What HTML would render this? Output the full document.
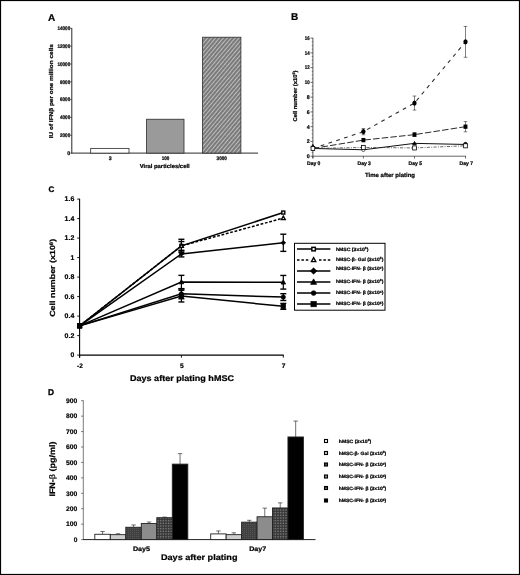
<!DOCTYPE html>
<html><head><meta charset="utf-8"><title>Figure</title>
<style>html,body{margin:0;padding:0;background:#fff;}svg{display:block;will-change:transform;opacity:0.999;}</style>
</head><body>
<svg width="520" height="575" viewBox="0 0 520 575" font-family="Liberation Sans, sans-serif" fill="#000" text-rendering="geometricPrecision">
<defs>
<pattern id="hatch" width="3" height="3" patternUnits="userSpaceOnUse" patternTransform="rotate(-50)">
<rect width="3" height="3" fill="#7f7f7f"/><rect width="3" height="0.62" fill="#e4e4e4"/><rect x="0.5" y="1.3" width="1.2" height="1.0" fill="#696969"/></pattern>
<pattern id="dk1" width="2" height="2" patternUnits="userSpaceOnUse"><rect width="2" height="2" fill="#414141"/><rect width="1" height="1" fill="#545454"/></pattern>
<pattern id="dk2" width="1.6" height="1.6" patternUnits="userSpaceOnUse"><rect width="1.6" height="1.6" fill="#343434"/><rect width="0.8" height="0.8" fill="#8a8a8a"/></pattern>
</defs>
<rect x="0" y="0" width="520" height="575" fill="#fff"/>
<rect x="0.5" y="0.5" width="519" height="574" fill="none" stroke="#000" stroke-width="1.2"/>
<text x="48" y="21" font-size="10" font-weight="bold" text-anchor="start" stroke="#000" stroke-width="0.2">A</text>
<line x1="71.80" y1="28.00" x2="71.80" y2="153.50" stroke="#2a2a2a" stroke-width="1.0" />
<line x1="71.40" y1="153.10" x2="258.00" y2="153.10" stroke="#2a2a2a" stroke-width="1.0" />
<line x1="70.20" y1="153.10" x2="71.80" y2="153.10" stroke="#2a2a2a" stroke-width="0.7" />
<text x="70.2" y="154.95" font-size="5.2" font-weight="bold" text-anchor="end" stroke="#000" stroke-width="0.22">0</text>
<line x1="70.20" y1="135.27" x2="71.80" y2="135.27" stroke="#2a2a2a" stroke-width="0.7" />
<text x="70.2" y="137.12142857142857" font-size="5.2" font-weight="bold" text-anchor="end" textLength="10.16" lengthAdjust="spacingAndGlyphs" stroke="#000" stroke-width="0.22">2000</text>
<line x1="70.20" y1="117.44" x2="71.80" y2="117.44" stroke="#2a2a2a" stroke-width="0.7" />
<text x="70.2" y="119.29285714285713" font-size="5.2" font-weight="bold" text-anchor="end" textLength="10.16" lengthAdjust="spacingAndGlyphs" stroke="#000" stroke-width="0.22">4000</text>
<line x1="70.20" y1="99.61" x2="71.80" y2="99.61" stroke="#2a2a2a" stroke-width="0.7" />
<text x="70.2" y="101.4642857142857" font-size="5.2" font-weight="bold" text-anchor="end" textLength="10.16" lengthAdjust="spacingAndGlyphs" stroke="#000" stroke-width="0.22">6000</text>
<line x1="70.20" y1="81.79" x2="71.80" y2="81.79" stroke="#2a2a2a" stroke-width="0.7" />
<text x="70.2" y="83.63571428571427" font-size="5.2" font-weight="bold" text-anchor="end" textLength="10.16" lengthAdjust="spacingAndGlyphs" stroke="#000" stroke-width="0.22">8000</text>
<line x1="70.20" y1="63.96" x2="71.80" y2="63.96" stroke="#2a2a2a" stroke-width="0.7" />
<text x="70.2" y="65.80714285714285" font-size="5.2" font-weight="bold" text-anchor="end" textLength="12.7" lengthAdjust="spacingAndGlyphs" stroke="#000" stroke-width="0.22">10000</text>
<line x1="70.20" y1="46.13" x2="71.80" y2="46.13" stroke="#2a2a2a" stroke-width="0.7" />
<text x="70.2" y="47.97857142857142" font-size="5.2" font-weight="bold" text-anchor="end" textLength="12.7" lengthAdjust="spacingAndGlyphs" stroke="#000" stroke-width="0.22">12000</text>
<line x1="70.20" y1="28.30" x2="71.80" y2="28.30" stroke="#2a2a2a" stroke-width="0.7" />
<text x="70.2" y="30.15" font-size="5.2" font-weight="bold" text-anchor="end" textLength="12.7" lengthAdjust="spacingAndGlyphs" stroke="#000" stroke-width="0.22">14000</text>
<rect x="90.7" y="148.38" width="38.30" height="4.72" fill="#fff" stroke="#2a2a2a" stroke-width="0.8"/>
<rect x="146.6" y="119.23" width="37.40" height="33.87" fill="#9a9a9a" stroke="#2a2a2a" stroke-width="0.8"/>
<rect x="202.6" y="37.21" width="38.30" height="115.89" fill="url(#hatch)" stroke="#2a2a2a" stroke-width="0.8"/>
<text x="110.2" y="159.7" font-size="5.2" font-weight="bold" text-anchor="middle" stroke="#000" stroke-width="0.22">3</text>
<text x="165.6" y="159.7" font-size="5.2" font-weight="bold" text-anchor="middle" textLength="7.62" lengthAdjust="spacingAndGlyphs" stroke="#000" stroke-width="0.22">100</text>
<text x="221.7" y="159.7" font-size="5.2" font-weight="bold" text-anchor="middle" textLength="10.16" lengthAdjust="spacingAndGlyphs" stroke="#000" stroke-width="0.22">3000</text>
<text x="164.7" y="167.6" font-size="5.7" font-weight="bold" text-anchor="middle" textLength="50" lengthAdjust="spacingAndGlyphs" stroke="#000" stroke-width="0.22">Viral particles/cell</text>
<text x="52.6" y="91.2" font-size="5.6" font-weight="bold" text-anchor="middle" transform="rotate(-90 52.6 91.2)" textLength="94" lengthAdjust="spacingAndGlyphs" stroke="#000" stroke-width="0.22">IU of IFNβ per one million cells</text>
<text x="291" y="19.9" font-size="10" font-weight="bold" text-anchor="start" stroke="#000" stroke-width="0.2">B</text>
<line x1="312.90" y1="37.80" x2="312.90" y2="158.40" stroke="#2a2a2a" stroke-width="0.8" />
<line x1="312.90" y1="156.20" x2="465.90" y2="156.20" stroke="#555" stroke-width="0.9" />
<line x1="310.50" y1="156.20" x2="312.90" y2="156.20" stroke="#2a2a2a" stroke-width="0.7" />
<text x="309.6" y="158.04999999999998" font-size="5.3" font-weight="bold" text-anchor="end" stroke="#000" stroke-width="0.22">0</text>
<line x1="311.70" y1="152.51" x2="312.90" y2="152.51" stroke="#2a2a2a" stroke-width="0.5" />
<line x1="311.70" y1="148.82" x2="312.90" y2="148.82" stroke="#2a2a2a" stroke-width="0.5" />
<line x1="311.70" y1="145.13" x2="312.90" y2="145.13" stroke="#2a2a2a" stroke-width="0.5" />
<line x1="310.50" y1="141.44" x2="312.90" y2="141.44" stroke="#2a2a2a" stroke-width="0.7" />
<text x="309.6" y="143.2875" font-size="5.3" font-weight="bold" text-anchor="end" stroke="#000" stroke-width="0.22">2</text>
<line x1="311.70" y1="137.75" x2="312.90" y2="137.75" stroke="#2a2a2a" stroke-width="0.5" />
<line x1="311.70" y1="134.06" x2="312.90" y2="134.06" stroke="#2a2a2a" stroke-width="0.5" />
<line x1="311.70" y1="130.37" x2="312.90" y2="130.37" stroke="#2a2a2a" stroke-width="0.5" />
<line x1="310.50" y1="126.67" x2="312.90" y2="126.67" stroke="#2a2a2a" stroke-width="0.7" />
<text x="309.6" y="128.52499999999998" font-size="5.3" font-weight="bold" text-anchor="end" stroke="#000" stroke-width="0.22">4</text>
<line x1="311.70" y1="122.98" x2="312.90" y2="122.98" stroke="#2a2a2a" stroke-width="0.5" />
<line x1="311.70" y1="119.29" x2="312.90" y2="119.29" stroke="#2a2a2a" stroke-width="0.5" />
<line x1="311.70" y1="115.60" x2="312.90" y2="115.60" stroke="#2a2a2a" stroke-width="0.5" />
<line x1="310.50" y1="111.91" x2="312.90" y2="111.91" stroke="#2a2a2a" stroke-width="0.7" />
<text x="309.6" y="113.76249999999999" font-size="5.3" font-weight="bold" text-anchor="end" stroke="#000" stroke-width="0.22">6</text>
<line x1="311.70" y1="108.22" x2="312.90" y2="108.22" stroke="#2a2a2a" stroke-width="0.5" />
<line x1="311.70" y1="104.53" x2="312.90" y2="104.53" stroke="#2a2a2a" stroke-width="0.5" />
<line x1="311.70" y1="100.84" x2="312.90" y2="100.84" stroke="#2a2a2a" stroke-width="0.5" />
<line x1="310.50" y1="97.15" x2="312.90" y2="97.15" stroke="#2a2a2a" stroke-width="0.7" />
<text x="309.6" y="98.99999999999999" font-size="5.3" font-weight="bold" text-anchor="end" stroke="#000" stroke-width="0.22">8</text>
<line x1="311.70" y1="93.46" x2="312.90" y2="93.46" stroke="#2a2a2a" stroke-width="0.5" />
<line x1="311.70" y1="89.77" x2="312.90" y2="89.77" stroke="#2a2a2a" stroke-width="0.5" />
<line x1="311.70" y1="86.08" x2="312.90" y2="86.08" stroke="#2a2a2a" stroke-width="0.5" />
<line x1="310.50" y1="82.39" x2="312.90" y2="82.39" stroke="#2a2a2a" stroke-width="0.7" />
<text x="309.6" y="84.23749999999998" font-size="5.3" font-weight="bold" text-anchor="end" textLength="4.9" lengthAdjust="spacingAndGlyphs" stroke="#000" stroke-width="0.22">10</text>
<line x1="311.70" y1="78.70" x2="312.90" y2="78.70" stroke="#2a2a2a" stroke-width="0.5" />
<line x1="311.70" y1="75.01" x2="312.90" y2="75.01" stroke="#2a2a2a" stroke-width="0.5" />
<line x1="311.70" y1="71.32" x2="312.90" y2="71.32" stroke="#2a2a2a" stroke-width="0.5" />
<line x1="310.50" y1="67.62" x2="312.90" y2="67.62" stroke="#2a2a2a" stroke-width="0.7" />
<text x="309.6" y="69.475" font-size="5.3" font-weight="bold" text-anchor="end" textLength="4.9" lengthAdjust="spacingAndGlyphs" stroke="#000" stroke-width="0.22">12</text>
<line x1="311.70" y1="63.93" x2="312.90" y2="63.93" stroke="#2a2a2a" stroke-width="0.5" />
<line x1="311.70" y1="60.24" x2="312.90" y2="60.24" stroke="#2a2a2a" stroke-width="0.5" />
<line x1="311.70" y1="56.55" x2="312.90" y2="56.55" stroke="#2a2a2a" stroke-width="0.5" />
<line x1="310.50" y1="52.86" x2="312.90" y2="52.86" stroke="#2a2a2a" stroke-width="0.7" />
<text x="309.6" y="54.7125" font-size="5.3" font-weight="bold" text-anchor="end" textLength="4.9" lengthAdjust="spacingAndGlyphs" stroke="#000" stroke-width="0.22">14</text>
<line x1="311.70" y1="49.17" x2="312.90" y2="49.17" stroke="#2a2a2a" stroke-width="0.5" />
<line x1="311.70" y1="45.48" x2="312.90" y2="45.48" stroke="#2a2a2a" stroke-width="0.5" />
<line x1="311.70" y1="41.79" x2="312.90" y2="41.79" stroke="#2a2a2a" stroke-width="0.5" />
<line x1="310.50" y1="38.10" x2="312.90" y2="38.10" stroke="#2a2a2a" stroke-width="0.7" />
<text x="309.6" y="39.949999999999996" font-size="5.3" font-weight="bold" text-anchor="end" textLength="4.9" lengthAdjust="spacingAndGlyphs" stroke="#000" stroke-width="0.22">16</text>
<line x1="312.90" y1="156.20" x2="312.90" y2="158.40" stroke="#2a2a2a" stroke-width="0.7" />
<text x="313.7" y="164.5" font-size="5.2" font-weight="bold" text-anchor="middle" textLength="13.4" lengthAdjust="spacingAndGlyphs" stroke="#000" stroke-width="0.22">Day 0</text>
<line x1="363.40" y1="156.20" x2="363.40" y2="158.40" stroke="#2a2a2a" stroke-width="0.7" />
<text x="364.2" y="164.5" font-size="5.2" font-weight="bold" text-anchor="middle" textLength="13.4" lengthAdjust="spacingAndGlyphs" stroke="#000" stroke-width="0.22">Day 3</text>
<line x1="414.50" y1="156.20" x2="414.50" y2="158.40" stroke="#2a2a2a" stroke-width="0.7" />
<text x="415.3" y="164.5" font-size="5.2" font-weight="bold" text-anchor="middle" textLength="13.4" lengthAdjust="spacingAndGlyphs" stroke="#000" stroke-width="0.22">Day 5</text>
<line x1="465.50" y1="156.20" x2="465.50" y2="158.40" stroke="#2a2a2a" stroke-width="0.7" />
<text x="466.3" y="164.5" font-size="5.2" font-weight="bold" text-anchor="middle" textLength="13.4" lengthAdjust="spacingAndGlyphs" stroke="#000" stroke-width="0.22">Day 7</text>
<text x="390" y="176.5" font-size="5.9" font-weight="bold" text-anchor="middle" textLength="50" lengthAdjust="spacingAndGlyphs" stroke="#000" stroke-width="0.22">Time after plating</text>
<text x="297.3" y="96" font-size="5.6" font-weight="bold" text-anchor="middle" transform="rotate(-90 297.3 96)" textLength="51" lengthAdjust="spacingAndGlyphs" stroke="#000" stroke-width="0.22">Cell number (x10<tspan font-size="3.6" dy="-1.9">5</tspan><tspan dy="1.9">)</tspan></text>
<polyline points="312.90,148.45 363.40,149.78 414.50,143.36 465.50,144.46" fill="none" stroke="#111" stroke-width="1.0"/>
<polyline points="312.90,148.45 363.40,147.42 414.50,147.93 465.50,145.79" fill="none" stroke="#2a2a2a" stroke-width="0.7" stroke-dasharray="3.2 1.3 0.9 1.3"/>
<polyline points="312.90,148.45 363.40,140.11 414.50,134.65 465.50,126.67" fill="none" stroke="#2a2a2a" stroke-width="1.0" stroke-dasharray="6.5 2.2"/>
<polyline points="312.90,148.45 363.40,131.62 414.50,103.05 465.50,41.86" fill="none" stroke="#2a2a2a" stroke-width="1.05" stroke-dasharray="3.8 4.4"/>
<line x1="363.40" y1="128.52" x2="363.40" y2="134.72" stroke="#2a2a2a" stroke-width="0.6" />
<line x1="361.60" y1="128.52" x2="365.20" y2="128.52" stroke="#2a2a2a" stroke-width="0.6" />
<line x1="361.60" y1="134.72" x2="365.20" y2="134.72" stroke="#2a2a2a" stroke-width="0.6" />
<line x1="414.50" y1="96.04" x2="414.50" y2="110.07" stroke="#2a2a2a" stroke-width="0.6" />
<line x1="412.70" y1="96.04" x2="416.30" y2="96.04" stroke="#2a2a2a" stroke-width="0.6" />
<line x1="412.70" y1="110.07" x2="416.30" y2="110.07" stroke="#2a2a2a" stroke-width="0.6" />
<line x1="465.50" y1="26.44" x2="465.50" y2="57.29" stroke="#2a2a2a" stroke-width="0.6" />
<line x1="463.70" y1="26.44" x2="467.30" y2="26.44" stroke="#2a2a2a" stroke-width="0.6" />
<line x1="463.70" y1="57.29" x2="467.30" y2="57.29" stroke="#2a2a2a" stroke-width="0.6" />
<line x1="414.50" y1="132.80" x2="414.50" y2="136.49" stroke="#2a2a2a" stroke-width="0.6" />
<line x1="412.70" y1="132.80" x2="416.30" y2="132.80" stroke="#2a2a2a" stroke-width="0.6" />
<line x1="412.70" y1="136.49" x2="416.30" y2="136.49" stroke="#2a2a2a" stroke-width="0.6" />
<line x1="465.50" y1="121.58" x2="465.50" y2="131.77" stroke="#2a2a2a" stroke-width="0.6" />
<line x1="463.70" y1="121.58" x2="467.30" y2="121.58" stroke="#2a2a2a" stroke-width="0.6" />
<line x1="463.70" y1="131.77" x2="467.30" y2="131.77" stroke="#2a2a2a" stroke-width="0.6" />
<path d="M312.90 144.44 L314.62 147.59 L311.17 147.59 Z" fill="#000" stroke="#000" stroke-width="0.8" stroke-linejoin="miter"/>
<circle cx="363.40" cy="149.93" r="1.60" fill="#fff" stroke="#000" stroke-width="0.6"/>
<path d="M414.50 141.44 L416.34 144.80 L412.66 144.80 Z" fill="#000" stroke="#000" stroke-width="0.8" stroke-linejoin="miter"/>
<circle cx="465.50" cy="143.86" r="1.60" fill="#000" stroke="#000" stroke-width="0.8"/>
<rect x="361.45" y="137.96" width="3.9" height="4.3" fill="#000"/>
<rect x="412.55" y="132.50" width="3.9" height="4.3" fill="#000"/>
<rect x="463.55" y="124.52" width="3.9" height="4.3" fill="#000"/>
<ellipse cx="363.40" cy="131.62" rx="2.15" ry="2.65" fill="#000"/>
<ellipse cx="414.50" cy="103.05" rx="2.15" ry="2.65" fill="#000"/>
<ellipse cx="465.50" cy="41.86" rx="2.15" ry="2.65" fill="#000"/>
<rect x="311.05" y="146.40" width="3.7" height="4.1" fill="#fff" stroke="#000" stroke-width="0.8"/>
<rect x="361.55" y="145.37" width="3.7" height="4.1" fill="#fff" stroke="#000" stroke-width="0.8"/>
<rect x="412.65" y="145.88" width="3.7" height="4.1" fill="#fff" stroke="#000" stroke-width="0.8"/>
<rect x="463.65" y="143.74" width="3.7" height="4.1" fill="#fff" stroke="#000" stroke-width="0.8"/>
<text x="48.4" y="192.4" font-size="8.1" font-weight="bold" text-anchor="start" stroke="#000" stroke-width="0.3">C</text>
<line x1="79.60" y1="198.80" x2="79.60" y2="357.70" stroke="#000" stroke-width="1.1" />
<line x1="79.10" y1="355.10" x2="283.80" y2="355.10" stroke="#000" stroke-width="1.1" />
<line x1="77.20" y1="355.10" x2="79.60" y2="355.10" stroke="#000" stroke-width="0.9" />
<text x="74.3" y="357.45000000000005" font-size="6.8" font-weight="bold" text-anchor="end" stroke="#000" stroke-width="0.2">0</text>
<line x1="77.20" y1="335.60" x2="79.60" y2="335.60" stroke="#000" stroke-width="0.9" />
<text x="74.3" y="337.95000000000005" font-size="6.8" font-weight="bold" text-anchor="end" textLength="9.7" lengthAdjust="spacingAndGlyphs" stroke="#000" stroke-width="0.2">0.2</text>
<line x1="77.20" y1="316.10" x2="79.60" y2="316.10" stroke="#000" stroke-width="0.9" />
<text x="74.3" y="318.45000000000005" font-size="6.8" font-weight="bold" text-anchor="end" textLength="9.7" lengthAdjust="spacingAndGlyphs" stroke="#000" stroke-width="0.2">0.4</text>
<line x1="77.20" y1="296.60" x2="79.60" y2="296.60" stroke="#000" stroke-width="0.9" />
<text x="74.3" y="298.95000000000005" font-size="6.8" font-weight="bold" text-anchor="end" textLength="9.7" lengthAdjust="spacingAndGlyphs" stroke="#000" stroke-width="0.2">0.6</text>
<line x1="77.20" y1="277.10" x2="79.60" y2="277.10" stroke="#000" stroke-width="0.9" />
<text x="74.3" y="279.45000000000005" font-size="6.8" font-weight="bold" text-anchor="end" textLength="9.7" lengthAdjust="spacingAndGlyphs" stroke="#000" stroke-width="0.2">0.8</text>
<line x1="77.20" y1="257.60" x2="79.60" y2="257.60" stroke="#000" stroke-width="0.9" />
<text x="74.3" y="259.95000000000005" font-size="6.8" font-weight="bold" text-anchor="end" stroke="#000" stroke-width="0.2">1</text>
<line x1="77.20" y1="238.10" x2="79.60" y2="238.10" stroke="#000" stroke-width="0.9" />
<text x="74.3" y="240.45" font-size="6.8" font-weight="bold" text-anchor="end" textLength="9.7" lengthAdjust="spacingAndGlyphs" stroke="#000" stroke-width="0.2">1.2</text>
<line x1="77.20" y1="218.60" x2="79.60" y2="218.60" stroke="#000" stroke-width="0.9" />
<text x="74.3" y="220.95" font-size="6.8" font-weight="bold" text-anchor="end" textLength="9.7" lengthAdjust="spacingAndGlyphs" stroke="#000" stroke-width="0.2">1.4</text>
<line x1="77.20" y1="199.10" x2="79.60" y2="199.10" stroke="#000" stroke-width="0.9" />
<text x="74.3" y="201.45" font-size="6.8" font-weight="bold" text-anchor="end" textLength="9.7" lengthAdjust="spacingAndGlyphs" stroke="#000" stroke-width="0.2">1.6</text>
<line x1="79.60" y1="355.10" x2="79.60" y2="357.70" stroke="#000" stroke-width="0.9" />
<text x="80.0" y="368.4" font-size="6.6" font-weight="bold" text-anchor="middle" stroke="#000" stroke-width="0.2">-2</text>
<line x1="181.40" y1="355.10" x2="181.40" y2="357.70" stroke="#000" stroke-width="0.9" />
<text x="181.8" y="368.4" font-size="6.6" font-weight="bold" text-anchor="middle" stroke="#000" stroke-width="0.2">5</text>
<line x1="283.30" y1="355.10" x2="283.30" y2="357.70" stroke="#000" stroke-width="0.9" />
<text x="283.7" y="368.4" font-size="6.6" font-weight="bold" text-anchor="middle" stroke="#000" stroke-width="0.2">7</text>
<text x="182" y="380.5" font-size="8.2" font-weight="bold" text-anchor="middle" textLength="104" lengthAdjust="spacingAndGlyphs" stroke="#000" stroke-width="0.22">Days after plating hMSC</text>
<text x="55.2" y="277.8" font-size="7.4" font-weight="bold" text-anchor="middle" transform="rotate(-90 55.2 277.8)" textLength="78" lengthAdjust="spacingAndGlyphs" stroke="#000" stroke-width="0.22">Cell number (x10<tspan font-size="5" dy="-2.6">6</tspan><tspan dy="2.6">)</tspan></text>
<polyline points="79.60,325.85 181.40,245.90 283.30,212.56" fill="none" stroke="#000" stroke-width="1.5"/>
<polyline points="79.60,325.85 181.40,245.90 283.30,218.11" fill="none" stroke="#000" stroke-width="1.5" stroke-dasharray="2.8 1.7"/>
<polyline points="79.60,325.85 181.40,253.99 283.30,242.78" fill="none" stroke="#000" stroke-width="1.5"/>
<polyline points="79.60,325.85 181.40,281.98 283.30,282.27" fill="none" stroke="#000" stroke-width="1.5"/>
<polyline points="79.60,325.85 181.40,293.87 283.30,297.09" fill="none" stroke="#000" stroke-width="1.5"/>
<polyline points="79.60,325.85 181.40,296.11 283.30,306.35" fill="none" stroke="#000" stroke-width="1.5"/>
<line x1="181.40" y1="239.27" x2="181.40" y2="252.53" stroke="#000" stroke-width="1.2" />
<line x1="178.40" y1="239.27" x2="184.40" y2="239.27" stroke="#000" stroke-width="1.4" />
<line x1="178.40" y1="252.53" x2="184.40" y2="252.53" stroke="#000" stroke-width="1.4" />
<line x1="181.40" y1="241.51" x2="181.40" y2="250.29" stroke="#000" stroke-width="1.2" />
<line x1="178.40" y1="241.51" x2="184.40" y2="241.51" stroke="#000" stroke-width="1.4" />
<line x1="178.40" y1="250.29" x2="184.40" y2="250.29" stroke="#000" stroke-width="1.4" />
<line x1="181.40" y1="251.07" x2="181.40" y2="256.92" stroke="#000" stroke-width="1.2" />
<line x1="178.40" y1="251.07" x2="184.40" y2="251.07" stroke="#000" stroke-width="1.4" />
<line x1="178.40" y1="256.92" x2="184.40" y2="256.92" stroke="#000" stroke-width="1.4" />
<line x1="283.30" y1="234.20" x2="283.30" y2="251.36" stroke="#000" stroke-width="1.2" />
<line x1="280.30" y1="234.20" x2="286.30" y2="234.20" stroke="#000" stroke-width="1.4" />
<line x1="280.30" y1="251.36" x2="286.30" y2="251.36" stroke="#000" stroke-width="1.4" />
<line x1="181.40" y1="275.35" x2="181.40" y2="288.61" stroke="#000" stroke-width="1.2" />
<line x1="178.40" y1="275.35" x2="184.40" y2="275.35" stroke="#000" stroke-width="1.4" />
<line x1="178.40" y1="288.61" x2="184.40" y2="288.61" stroke="#000" stroke-width="1.4" />
<line x1="283.30" y1="275.44" x2="283.30" y2="289.09" stroke="#000" stroke-width="1.2" />
<line x1="280.30" y1="275.44" x2="286.30" y2="275.44" stroke="#000" stroke-width="1.4" />
<line x1="280.30" y1="289.09" x2="286.30" y2="289.09" stroke="#000" stroke-width="1.4" />
<line x1="181.40" y1="289.00" x2="181.40" y2="298.75" stroke="#000" stroke-width="1.2" />
<line x1="178.40" y1="289.00" x2="184.40" y2="289.00" stroke="#000" stroke-width="1.4" />
<line x1="178.40" y1="298.75" x2="184.40" y2="298.75" stroke="#000" stroke-width="1.4" />
<line x1="283.30" y1="293.68" x2="283.30" y2="300.50" stroke="#000" stroke-width="1.2" />
<line x1="280.30" y1="293.68" x2="286.30" y2="293.68" stroke="#000" stroke-width="1.4" />
<line x1="280.30" y1="300.50" x2="286.30" y2="300.50" stroke="#000" stroke-width="1.4" />
<line x1="181.40" y1="290.26" x2="181.40" y2="301.96" stroke="#000" stroke-width="1.2" />
<line x1="178.40" y1="290.26" x2="184.40" y2="290.26" stroke="#000" stroke-width="1.4" />
<line x1="178.40" y1="301.96" x2="184.40" y2="301.96" stroke="#000" stroke-width="1.4" />
<line x1="283.30" y1="303.43" x2="283.30" y2="309.28" stroke="#000" stroke-width="1.2" />
<line x1="280.30" y1="303.43" x2="286.30" y2="303.43" stroke="#000" stroke-width="1.4" />
<line x1="280.30" y1="309.28" x2="286.30" y2="309.28" stroke="#000" stroke-width="1.4" />
<rect x="179.90" y="244.40" width="3.00" height="3.00" fill="#fff" stroke="#000" stroke-width="1.4"/>
<rect x="281.80" y="211.06" width="3.00" height="3.00" fill="#fff" stroke="#000" stroke-width="1.4"/>
<path d="M181.40 243.86 L183.36 247.43 L179.44 247.43 Z" fill="#fff" stroke="#000" stroke-width="1.35" stroke-linejoin="miter"/>
<path d="M283.30 216.07 L285.25 219.64 L281.35 219.64 Z" fill="#fff" stroke="#000" stroke-width="1.35" stroke-linejoin="miter"/>
<path d="M79.60 323.58 L82.05 325.85 L79.60 328.12 L77.15 325.85 Z" fill="#000" stroke="#000" stroke-width="0.6"/>
<path d="M181.40 251.72 L183.85 253.99 L181.40 256.27 L178.95 253.99 Z" fill="#000" stroke="#000" stroke-width="0.6"/>
<path d="M283.30 240.51 L285.75 242.78 L283.30 245.06 L280.85 242.78 Z" fill="#000" stroke="#000" stroke-width="0.6"/>
<path d="M79.60 323.45 L81.90 327.65 L77.30 327.65 Z" fill="#000" stroke="#000" stroke-width="0.8" stroke-linejoin="miter"/>
<path d="M181.40 279.58 L183.70 283.78 L179.10 283.78 Z" fill="#000" stroke="#000" stroke-width="0.8" stroke-linejoin="miter"/>
<path d="M283.30 279.87 L285.60 284.07 L281.00 284.07 Z" fill="#000" stroke="#000" stroke-width="0.8" stroke-linejoin="miter"/>
<circle cx="79.60" cy="325.85" r="2.20" fill="#000" stroke="#000" stroke-width="0.6"/>
<circle cx="181.40" cy="293.87" r="2.20" fill="#000" stroke="#000" stroke-width="0.6"/>
<circle cx="283.30" cy="297.09" r="2.20" fill="#000" stroke="#000" stroke-width="0.6"/>
<rect x="77.30" y="323.55" width="4.60" height="4.60" fill="#000" stroke="#000" stroke-width="0.6"/>
<rect x="179.10" y="293.81" width="4.60" height="4.60" fill="#000" stroke="#000" stroke-width="0.6"/>
<rect x="281.00" y="304.05" width="4.60" height="4.60" fill="#000" stroke="#000" stroke-width="0.6"/>
<rect x="77.30" y="323.55" width="4.60" height="4.60" fill="#000" stroke="#000" stroke-width="0.6"/>
<rect x="294.5" y="243.3" width="90.5" height="66.9" fill="#fff" stroke="#000" stroke-width="1"/>
<line x1="297.00" y1="249.10" x2="330.40" y2="249.10" stroke="#000" stroke-width="1.5" />
<rect x="311.85" y="247.35" width="3.50" height="3.50" fill="#fff" stroke="#000" stroke-width="1.45"/>
<text x="336" y="250.79999999999998" font-size="4.7" font-weight="bold" text-anchor="start" textLength="32.4" lengthAdjust="spacingAndGlyphs" stroke="#000" stroke-width="0.22">hMSC (3x10<tspan font-size="3.0" dy="-1.5">6</tspan><tspan dy="1.5">)</tspan></text>
<line x1="297.00" y1="259.90" x2="330.40" y2="259.90" stroke="#000" stroke-width="1.5" stroke-dasharray="2.5 1.9"/>
<rect x="309.6" y="258.4" width="8" height="3" fill="#fff"/>
<path d="M313.60 257.62 L315.79 261.61 L311.42 261.61 Z" fill="#fff" stroke="#000" stroke-width="1.35" stroke-linejoin="miter"/>
<text x="336" y="260.59999999999997" font-size="4.7" font-weight="bold" text-anchor="start" textLength="47.3" lengthAdjust="spacingAndGlyphs" stroke="#000" stroke-width="0.22">hMSC-β- Gal (3x10<tspan font-size="3.0" dy="-1.5">5</tspan><tspan dy="1.5">)</tspan></text>
<line x1="297.00" y1="271.00" x2="330.40" y2="271.00" stroke="#000" stroke-width="1.5" />
<path d="M313.60 267.81 L317.03 271.00 L313.60 274.19 L310.17 271.00 Z" fill="#000" stroke="#000" stroke-width="0.5"/>
<text x="336" y="270.2" font-size="4.7" font-weight="bold" text-anchor="start" textLength="47.3" lengthAdjust="spacingAndGlyphs" stroke="#000" stroke-width="0.22">hMSC-IFN- β (3x10<tspan font-size="3.0" dy="-1.5">2</tspan><tspan dy="1.5">)</tspan></text>
<line x1="297.00" y1="282.00" x2="330.40" y2="282.00" stroke="#000" stroke-width="1.5" />
<path d="M313.60 278.88 L316.59 284.34 L310.61 284.34 Z" fill="#000" stroke="#000" stroke-width="0.8" stroke-linejoin="miter"/>
<text x="336" y="282.7" font-size="4.7" font-weight="bold" text-anchor="start" textLength="47.3" lengthAdjust="spacingAndGlyphs" stroke="#000" stroke-width="0.22">hMSC-IFN- β (3x10<tspan font-size="3.0" dy="-1.5">3</tspan><tspan dy="1.5">)</tspan></text>
<line x1="297.00" y1="293.10" x2="330.40" y2="293.10" stroke="#000" stroke-width="1.5" />
<circle cx="313.60" cy="293.10" r="2.40" fill="#000" stroke="#000" stroke-width="0.6"/>
<text x="336" y="294.3" font-size="4.7" font-weight="bold" text-anchor="start" textLength="47.3" lengthAdjust="spacingAndGlyphs" stroke="#000" stroke-width="0.22">hMSC-IFN- β (3x10<tspan font-size="3.0" dy="-1.5">4</tspan><tspan dy="1.5">)</tspan></text>
<line x1="297.00" y1="304.10" x2="330.40" y2="304.10" stroke="#000" stroke-width="1.5" />
<rect x="310.90" y="301.40" width="5.40" height="5.40" fill="#000" stroke="#000" stroke-width="0.6"/>
<text x="336" y="305.4" font-size="4.7" font-weight="bold" text-anchor="start" textLength="47.3" lengthAdjust="spacingAndGlyphs" stroke="#000" stroke-width="0.22">hMSC-IFN- β (3x10<tspan font-size="3.0" dy="-1.5">5</tspan><tspan dy="1.5">)</tspan></text>
<text x="48" y="395" font-size="8.4" font-weight="bold" text-anchor="start" stroke="#000" stroke-width="0.3">D</text>
<line x1="83.30" y1="400.40" x2="83.30" y2="539.90" stroke="#444" stroke-width="0.7" />
<line x1="83.00" y1="539.60" x2="315.50" y2="539.60" stroke="#222" stroke-width="1.0" />
<line x1="81.10" y1="539.60" x2="83.30" y2="539.60" stroke="#444" stroke-width="0.7" />
<text x="77.4" y="541.9" font-size="6.6" font-weight="bold" text-anchor="end" stroke="#000" stroke-width="0.2">0</text>
<line x1="81.10" y1="524.17" x2="83.30" y2="524.17" stroke="#444" stroke-width="0.7" />
<text x="77.4" y="526.4666666666667" font-size="6.6" font-weight="bold" text-anchor="end" textLength="11.3" lengthAdjust="spacingAndGlyphs" stroke="#000" stroke-width="0.2">100</text>
<line x1="81.10" y1="508.73" x2="83.30" y2="508.73" stroke="#444" stroke-width="0.7" />
<text x="77.4" y="511.03333333333336" font-size="6.6" font-weight="bold" text-anchor="end" textLength="11.3" lengthAdjust="spacingAndGlyphs" stroke="#000" stroke-width="0.2">200</text>
<line x1="81.10" y1="493.30" x2="83.30" y2="493.30" stroke="#444" stroke-width="0.7" />
<text x="77.4" y="495.6" font-size="6.6" font-weight="bold" text-anchor="end" textLength="11.3" lengthAdjust="spacingAndGlyphs" stroke="#000" stroke-width="0.2">300</text>
<line x1="81.10" y1="477.87" x2="83.30" y2="477.87" stroke="#444" stroke-width="0.7" />
<text x="77.4" y="480.1666666666667" font-size="6.6" font-weight="bold" text-anchor="end" textLength="11.3" lengthAdjust="spacingAndGlyphs" stroke="#000" stroke-width="0.2">400</text>
<line x1="81.10" y1="462.43" x2="83.30" y2="462.43" stroke="#444" stroke-width="0.7" />
<text x="77.4" y="464.73333333333335" font-size="6.6" font-weight="bold" text-anchor="end" textLength="11.3" lengthAdjust="spacingAndGlyphs" stroke="#000" stroke-width="0.2">500</text>
<line x1="81.10" y1="447.00" x2="83.30" y2="447.00" stroke="#444" stroke-width="0.7" />
<text x="77.4" y="449.3" font-size="6.6" font-weight="bold" text-anchor="end" textLength="11.3" lengthAdjust="spacingAndGlyphs" stroke="#000" stroke-width="0.2">600</text>
<line x1="81.10" y1="431.57" x2="83.30" y2="431.57" stroke="#444" stroke-width="0.7" />
<text x="77.4" y="433.8666666666667" font-size="6.6" font-weight="bold" text-anchor="end" textLength="11.3" lengthAdjust="spacingAndGlyphs" stroke="#000" stroke-width="0.2">700</text>
<line x1="81.10" y1="416.13" x2="83.30" y2="416.13" stroke="#444" stroke-width="0.7" />
<text x="77.4" y="418.43333333333334" font-size="6.6" font-weight="bold" text-anchor="end" textLength="11.3" lengthAdjust="spacingAndGlyphs" stroke="#000" stroke-width="0.2">800</text>
<line x1="81.10" y1="400.70" x2="83.30" y2="400.70" stroke="#444" stroke-width="0.7" />
<text x="77.4" y="403.0" font-size="6.6" font-weight="bold" text-anchor="end" textLength="11.3" lengthAdjust="spacingAndGlyphs" stroke="#000" stroke-width="0.2">900</text>
<line x1="102.55" y1="531.50" x2="102.55" y2="534.28" stroke="#333" stroke-width="0.7" />
<line x1="100.35" y1="531.50" x2="104.75" y2="531.50" stroke="#333" stroke-width="0.7" />
<rect x="94.80" y="534.28" width="15.5" height="5.32" fill="#fff" stroke="#222" stroke-width="0.9"/>
<line x1="118.05" y1="533.74" x2="118.05" y2="534.66" stroke="#333" stroke-width="0.7" />
<line x1="115.85" y1="533.74" x2="120.25" y2="533.74" stroke="#333" stroke-width="0.7" />
<rect x="110.30" y="534.66" width="15.5" height="4.94" fill="#cdcdcd" stroke="#222" stroke-width="0.9"/>
<line x1="133.55" y1="524.94" x2="133.55" y2="527.25" stroke="#333" stroke-width="0.7" />
<line x1="131.35" y1="524.94" x2="135.75" y2="524.94" stroke="#333" stroke-width="0.7" />
<rect x="125.80" y="527.25" width="15.5" height="12.35" fill="url(#dk1)" stroke="#222" stroke-width="0.9"/>
<line x1="149.05" y1="522.01" x2="149.05" y2="523.55" stroke="#333" stroke-width="0.7" />
<line x1="146.85" y1="522.01" x2="151.25" y2="522.01" stroke="#333" stroke-width="0.7" />
<rect x="141.30" y="523.55" width="15.5" height="16.05" fill="#8c8c8c" stroke="#222" stroke-width="0.9"/>
<line x1="164.55" y1="517.07" x2="164.55" y2="517.68" stroke="#333" stroke-width="0.7" />
<line x1="162.35" y1="517.07" x2="166.75" y2="517.07" stroke="#333" stroke-width="0.7" />
<rect x="156.80" y="517.68" width="15.5" height="21.92" fill="url(#dk2)" stroke="#222" stroke-width="0.9"/>
<line x1="180.05" y1="453.64" x2="180.05" y2="464.13" stroke="#333" stroke-width="0.7" />
<line x1="177.85" y1="453.64" x2="182.25" y2="453.64" stroke="#333" stroke-width="0.7" />
<rect x="172.30" y="464.13" width="15.5" height="75.47" fill="#000" stroke="#222" stroke-width="0.9"/>
<line x1="218.42" y1="530.96" x2="218.42" y2="533.89" stroke="#333" stroke-width="0.7" />
<line x1="216.22" y1="530.96" x2="220.62" y2="530.96" stroke="#333" stroke-width="0.7" />
<rect x="210.70" y="533.89" width="15.45" height="5.71" fill="#fff" stroke="#222" stroke-width="0.9"/>
<line x1="233.87" y1="532.81" x2="233.87" y2="534.66" stroke="#333" stroke-width="0.7" />
<line x1="231.67" y1="532.81" x2="236.07" y2="532.81" stroke="#333" stroke-width="0.7" />
<rect x="226.15" y="534.66" width="15.45" height="4.94" fill="#cdcdcd" stroke="#222" stroke-width="0.9"/>
<line x1="249.32" y1="520.31" x2="249.32" y2="522.16" stroke="#333" stroke-width="0.7" />
<line x1="247.12" y1="520.31" x2="251.52" y2="520.31" stroke="#333" stroke-width="0.7" />
<rect x="241.60" y="522.16" width="15.45" height="17.44" fill="url(#dk1)" stroke="#222" stroke-width="0.9"/>
<line x1="264.77" y1="508.12" x2="264.77" y2="516.76" stroke="#333" stroke-width="0.7" />
<line x1="262.57" y1="508.12" x2="266.97" y2="508.12" stroke="#333" stroke-width="0.7" />
<rect x="257.05" y="516.76" width="15.45" height="22.84" fill="#8c8c8c" stroke="#222" stroke-width="0.9"/>
<line x1="280.23" y1="502.87" x2="280.23" y2="507.96" stroke="#333" stroke-width="0.7" />
<line x1="278.03" y1="502.87" x2="282.43" y2="502.87" stroke="#333" stroke-width="0.7" />
<rect x="272.50" y="507.96" width="15.45" height="31.64" fill="url(#dk2)" stroke="#222" stroke-width="0.9"/>
<line x1="295.68" y1="421.07" x2="295.68" y2="436.97" stroke="#333" stroke-width="0.7" />
<line x1="293.48" y1="421.07" x2="297.88" y2="421.07" stroke="#333" stroke-width="0.7" />
<rect x="287.95" y="436.97" width="15.45" height="102.63" fill="#000" stroke="#222" stroke-width="0.9"/>
<text x="141.5" y="550.5" font-size="6.6" font-weight="bold" text-anchor="middle" textLength="17.2" lengthAdjust="spacingAndGlyphs" stroke="#000" stroke-width="0.2">Day5</text>
<text x="257.7" y="550.5" font-size="6.6" font-weight="bold" text-anchor="middle" textLength="17.0" lengthAdjust="spacingAndGlyphs" stroke="#000" stroke-width="0.2">Day7</text>
<text x="199.2" y="559.9" font-size="8.1" font-weight="bold" text-anchor="middle" textLength="76.6" lengthAdjust="spacingAndGlyphs" stroke="#000" stroke-width="0.22">Days after plating</text>
<text x="55.4" y="469.1" font-size="8" font-weight="bold" text-anchor="middle" transform="rotate(-90 55.4 469.1)" textLength="55" lengthAdjust="spacingAndGlyphs" stroke="#000" stroke-width="0.22">IFN-<tspan font-weight="normal">β</tspan> (pg/ml)</text>
<rect x="324.5" y="439.5" width="3.0" height="3.0" fill="#fff" stroke="#000" stroke-width="1.1"/>
<text x="338.8" y="442.6" font-size="4.7" font-weight="bold" text-anchor="start" textLength="32.4" lengthAdjust="spacingAndGlyphs" stroke="#000" stroke-width="0.22">hMSC (3x10<tspan font-size="3.0" dy="-1.5">6</tspan><tspan dy="1.5">)</tspan></text>
<rect x="324.5" y="451.5" width="3.0" height="3.0" fill="#cdcdcd" stroke="#000" stroke-width="1.1"/>
<text x="338.8" y="454.6" font-size="4.7" font-weight="bold" text-anchor="start" textLength="47.3" lengthAdjust="spacingAndGlyphs" stroke="#000" stroke-width="0.22">hMSC-β- Gal (3x10<tspan font-size="3.0" dy="-1.5">5</tspan><tspan dy="1.5">)</tspan></text>
<rect x="324.5" y="463.0" width="3.0" height="3.0" fill="url(#dk1)" stroke="#000" stroke-width="1.1"/>
<text x="338.8" y="466.1" font-size="4.7" font-weight="bold" text-anchor="start" textLength="47.3" lengthAdjust="spacingAndGlyphs" stroke="#000" stroke-width="0.22">hMSC-IFN- β (3x10<tspan font-size="3.0" dy="-1.5">2</tspan><tspan dy="1.5">)</tspan></text>
<rect x="324.5" y="475.0" width="3.0" height="3.0" fill="#8c8c8c" stroke="#000" stroke-width="1.1"/>
<text x="338.8" y="478.1" font-size="4.7" font-weight="bold" text-anchor="start" textLength="47.3" lengthAdjust="spacingAndGlyphs" stroke="#000" stroke-width="0.22">hMSC-IFN- β (3x10<tspan font-size="3.0" dy="-1.5">3</tspan><tspan dy="1.5">)</tspan></text>
<rect x="324.5" y="486.5" width="3.0" height="3.0" fill="url(#dk2)" stroke="#000" stroke-width="1.1"/>
<text x="338.8" y="489.6" font-size="4.7" font-weight="bold" text-anchor="start" textLength="47.3" lengthAdjust="spacingAndGlyphs" stroke="#000" stroke-width="0.22">hMSC-IFN- β (3x10<tspan font-size="3.0" dy="-1.5">4</tspan><tspan dy="1.5">)</tspan></text>
<rect x="324.5" y="499.0" width="3.0" height="3.0" fill="#000" stroke="#000" stroke-width="1.1"/>
<text x="338.8" y="502.1" font-size="4.7" font-weight="bold" text-anchor="start" textLength="47.3" lengthAdjust="spacingAndGlyphs" stroke="#000" stroke-width="0.22">hMSC-IFN- β (3x10<tspan font-size="3.0" dy="-1.5">5</tspan><tspan dy="1.5">)</tspan></text>
</svg>
</body></html>
